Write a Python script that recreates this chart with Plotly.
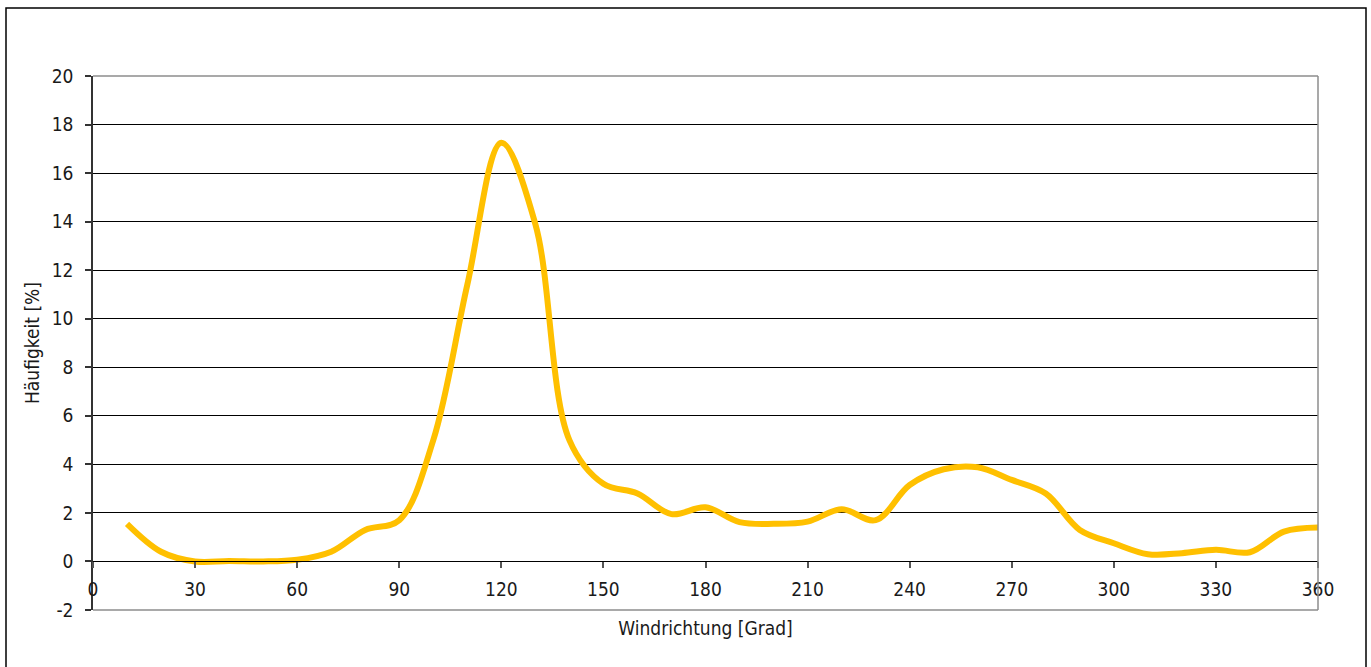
import plotly.graph_objects as go

# Data
windrichtung = [10, 20, 30, 40, 50, 60, 70, 80, 90, 100, 110, 120, 130, 140, 150, 160, 170, 180,
                190, 200, 210, 220, 230, 240, 250, 260, 270, 280, 290, 300, 310, 320, 330, 340, 350, 360]
haeufigkeit = [1.55, 0.4, 0.0, 0.02, 0.0, 0.07, 0.4, 1.3, 1.7, 5.0, 11.4, 17.25, 13.9, 5.0, 3.2, 2.8, 1.95, 2.23,
               1.62, 1.55, 1.64, 2.15, 1.7, 3.15, 3.8, 3.88, 3.36, 2.8, 1.3, 0.75, 0.3, 0.34, 0.48, 0.38, 1.23, 1.4]
x_ticks = list(range(0, 361, 30))
y_ticks = list(range(-2, 21, 2))

FONT = "DejaVu Sans Condensed, Liberation Sans Narrow, sans-serif"

W, H = 1371, 667
L, R, T, B = 93, 1318, 76, 610  # plot area pixel edges

fig = go.Figure()
fig.add_trace(go.Scatter(
    x=windrichtung, y=haeufigkeit, mode="lines",
    line=dict(color="#FFC000", width=6, shape="spline", smoothing=1.0),
    hoverinfo="x+y", showlegend=False,
))

pw = R - L
ph = B - T
def px(xp):
    return (xp - L) / pw
def py(yp):
    return (B - yp) / ph

shapes = [
    # plot area border (gray) top, right, bottom
    dict(type="line", xref="paper", yref="paper", x0=0, x1=1, y0=1, y1=1, line=dict(color="#8c8c8c", width=1.5), layer="above"),
    dict(type="line", xref="paper", yref="paper", x0=1, x1=1, y0=0, y1=1, line=dict(color="#8c8c8c", width=1.5), layer="above"),
    dict(type="line", xref="paper", yref="paper", x0=0, x1=1, y0=0, y1=0, line=dict(color="#8c8c8c", width=1.5), layer="above"),
    # outer chart frame
    dict(type="rect", xref="paper", yref="paper", x0=px(6), x1=px(1366), y0=py(690), y1=py(8),
         line=dict(color="#000000", width=1.5), fillcolor="rgba(0,0,0,0)", layer="above"),
]

fig.update_layout(
    width=W, height=H,
    margin=dict(l=L, r=W - R, t=T, b=H - B, autoexpand=False),
    paper_bgcolor="white", plot_bgcolor="white",
    font=dict(family=FONT, size=18, color="#1a1a1a"),
    shapes=shapes,
    xaxis=dict(
        range=[0, 360], tickvals=x_ticks, ticktext=[str(v) for v in x_ticks],
        showgrid=False, zeroline=False,
        showline=True, linecolor="#000000", linewidth=1,
        anchor="free", position=2 / 22,
        ticks="outside", ticklen=6, tickcolor="#555555", tickwidth=1.5,
        ticklabelstandoff=5,
        tickfont=dict(family=FONT, size=19, color="#1a1a1a"),
        title=dict(text="Windrichtung [Grad]", font=dict(family=FONT, size=19, color="#1a1a1a"), standoff=22),
        automargin=False,
    ),
    yaxis=dict(
        range=[-2, 20], tickvals=y_ticks, ticktext=[str(v) for v in y_ticks],
        showgrid=True, gridcolor="#000000", gridwidth=1,
        zeroline=False,
        showline=True, linecolor="#333333", linewidth=1.5,
        ticks="outside", ticklen=6, tickcolor="#333333", tickwidth=1.5,
        ticklabelstandoff=8,
        tickfont=dict(family=FONT, size=19, color="#1a1a1a"),
        title=dict(text="Häufigkeit [%]", font=dict(family=FONT, size=19, color="#1a1a1a"), standoff=7),
        automargin=False,
    ),
)

fig.write_html("out.html", config={"displayModeBar": False},
               post_script="document.body.style.margin='0';document.body.style.overflow='hidden';")
